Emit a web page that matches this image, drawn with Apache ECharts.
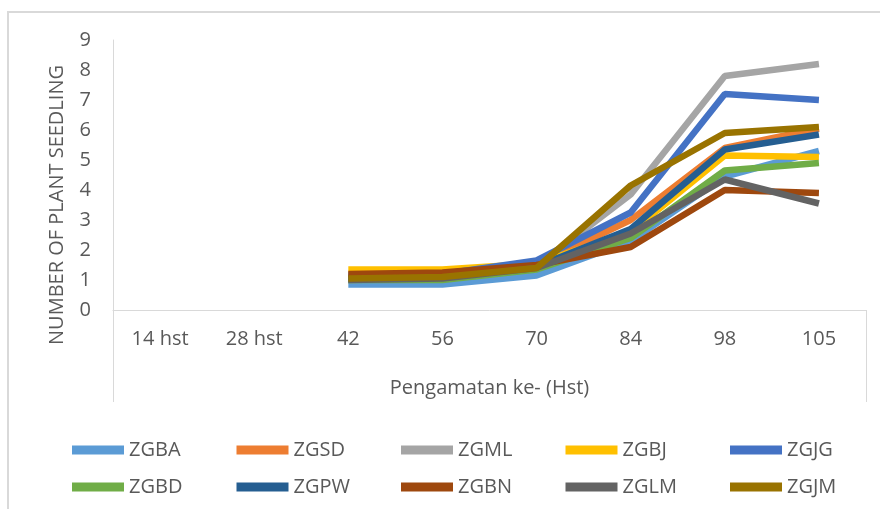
<!DOCTYPE html>
<html>
<head>
<meta charset="utf-8">
<script src="https://cdn.jsdelivr.net/npm/echarts@6/dist/echarts.min.js"></script>
<style>
  html, body { margin: 0; padding: 0; background: #fff; }
  #chart { width: 880px; height: 509px; }
</style>
</head>
<body>
<div id="chart"></div>
<script>
const categories = ["14 hst", "28 hst", "42", "56", "70", "84", "98", "105"];

const seriesNames = ["ZGBA", "ZGSD", "ZGML", "ZGBJ", "ZGJG", "ZGBD", "ZGPW", "ZGBN", "ZGLM", "ZGJM"];

const zgba = [null, null, 0.85, 0.85, 1.15, 2.3, 4.45, 5.3];
const zgsd = [null, null, 1.1, 1.15, 1.5, 3.0, 5.4, 6.05];
const zgml = [null, null, 1.0, 1.05, 1.45, 3.85, 7.8, 8.2];
const zgbj = [null, null, 1.35, 1.35, 1.55, 2.6, 5.15, 5.1];
const zgjg = [null, null, 1.15, 1.2, 1.65, 3.25, 7.2, 7.0];
const zgbd = [null, null, 1.0, 1.0, 1.35, 2.4, 4.65, 4.9];
const zgpw = [null, null, 1.05, 1.1, 1.45, 2.7, 5.35, 5.85];
const zgbn = [null, null, 1.2, 1.25, 1.5, 2.1, 4.0, 3.9];
const zglm = [null, null, 1.0, 1.05, 1.4, 2.55, 4.35, 3.55];
const zgjm = [null, null, 1.05, 1.1, 1.4, 4.15, 5.9, 6.1];

const seriesData = [zgba, zgsd, zgml, zgbj, zgjg, zgbd, zgpw, zgbn, zglm, zgjm];

const colors = [
  "#5B9BD5", "#ED7D31", "#A5A5A5", "#FFC000", "#4472C4",
  "#70AD47", "#255E91", "#9E480E", "#636363", "#997300",
];

const textColor = "#595959";
const lineColor = "#D9D9D9";
const fontFamily = "'Open Sans', sans-serif";

const chartDom = document.getElementById("chart");
const chart = echarts.init(chartDom);

// one legend per entry so the columns line up like the Excel legend
const legends = seriesNames.map((name, i) => ({
  left: 72 + (i % 5) * 164.5,
  top: i < 5 ? 440 : 477,
  padding: 0,
  icon: "rect",
  itemWidth: 52,
  itemHeight: 9,
  selectedMode: false,
  data: [name],
  textStyle: {
    color: textColor,
    fontSize: 20,
    fontFamily: fontFamily,
  },
}));

const option = {
  color: colors,
  animation: false,
  grid: {
    left: 113,
    right: 14,
    top: 40,
    bottom: 199,
  },
  legend: legends,
  xAxis: {
    type: "category",
    data: categories,
    boundaryGap: true,
    name: "Pengamatan ke- (Hst)",
    nameLocation: "middle",
    nameGap: 68,
    nameTextStyle: { color: textColor, fontSize: 20, fontFamily: fontFamily },
    axisLine: { show: true, lineStyle: { color: lineColor, width: 1 } },
    axisTick: { show: false },
    axisLabel: { color: textColor, fontSize: 20, fontFamily: fontFamily, margin: 19 },
    splitLine: { show: false },
  },
  yAxis: {
    type: "value",
    min: 0,
    max: 9,
    interval: 1,
    name: "NUMBER OF PLANT SEEDLING",
    nameLocation: "middle",
    nameGap: 46,
    nameTextStyle: {
      color: textColor,
      fontSize: 20,
      fontFamily: fontFamily,
      padding: [0, 60, 0, 0],
    },
    axisLine: { show: true, lineStyle: { color: lineColor, width: 1 } },
    axisTick: { show: false },
    axisLabel: { color: textColor, fontSize: 20, fontFamily: fontFamily, margin: 22 },
    splitLine: { show: false },
  },
  series: seriesNames.map((name, i) => ({
    name: name,
    type: "line",
    data: seriesData[i],
    showSymbol: false,
    symbol: "none",
    connectNulls: false,
    lineStyle: { width: 6.5, color: colors[i] },
    itemStyle: { color: colors[i] },
  })),
};

chart.setOption(option);

// frame lines: outer chart border and the boxed category-axis area (as in Excel)
const leftX = chart.convertToPixel({ xAxisIndex: 0 }, categories[0]) - 47;
const rightX = chart.convertToPixel({ xAxisIndex: 0 }, categories[categories.length - 1]) + 47;
const baseY = chart.convertToPixel({ yAxisIndex: 0 }, 0);

chart.setOption({
  graphic: [
    {
      type: "rect",
      shape: { x: 8, y: 12, width: 900, height: 600 },
      style: { fill: "none", stroke: lineColor, lineWidth: 2 },
      silent: true,
    },
    {
      type: "line",
      shape: { x1: Math.round(leftX) + 0.5, y1: baseY, x2: Math.round(leftX) + 0.5, y2: 402 },
      style: { stroke: lineColor, lineWidth: 1 },
      silent: true,
    },
    {
      type: "line",
      shape: { x1: Math.round(rightX) + 0.5, y1: baseY, x2: Math.round(rightX) + 0.5, y2: 402 },
      style: { stroke: lineColor, lineWidth: 1 },
      silent: true,
    },
  ],
});
</script>
</body>
</html>
